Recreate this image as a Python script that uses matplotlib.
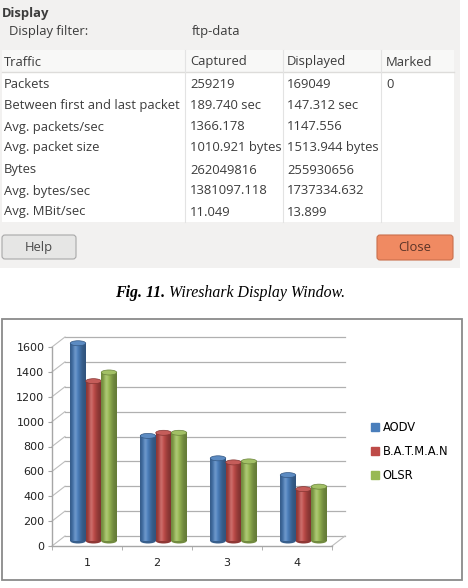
import numpy as np
import matplotlib.pyplot as plt
from matplotlib.patches import Rectangle, FancyBboxPatch, Ellipse, Patch
from matplotlib.colors import to_rgb

W, H = 468, 588

# wireshark summary table
display_filter = 'ftp-data'
header = ['Traffic', 'Captured', 'Displayed', 'Marked']
row_names = ['Packets', 'Between first and last packet', 'Avg. packets/sec',
             'Avg. packet size', 'Bytes', 'Avg. bytes/sec', 'Avg. MBit/sec']
captured = ['259219', '189.740 sec', '1366.178', '1010.921 bytes',
            '262049816', '1381097.118', '11.049']
displayed = ['169049', '147.312 sec', '1147.556', '1513.944 bytes',
             '255930656', '1737334.632', '13.899']
marked = ['0', '', '', '', '', '', '']

# bar chart
categories = ['1', '2', '3', '4']
protocols = ['AODV', 'B.A.T.M.A.N', 'OLSR']
aodv = [1590, 845, 665, 530]
batman = [1285, 870, 632, 417]
olsr = [1355, 870, 640, 437]
colors = ['#4a7ebb', '#be4b48', '#98b954']

ui_font = 'Open Sans'
ui_size = 9.4
txt_col = '#3c3c3c'

fig = plt.figure(figsize=(W / 100, H / 100), dpi=100)
bg = fig.add_axes([0, 0, 1, 1])
bg.set_xlim(0, W)
bg.set_ylim(H, 0)
bg.axis('off')

# ---- screenshot part ----
bg.add_patch(Rectangle((0, 0), 460, 268, color='#f2f1f0', lw=0))
bg.add_patch(Rectangle((2, 50), 452, 172, color='white', lw=0))
bg.add_patch(Rectangle((2, 50), 452, 22, color='#f8f8f7', lw=0))
bg.plot([2, 454], [72, 72], color='#dddcda', lw=1)
for cx in [185, 283, 381]:
    bg.plot([cx, cx], [50, 222], color='#e3e3e3', lw=0.8)

bg.text(2, 13, 'Display', fontsize=ui_size, fontweight='bold', family=ui_font,
        color=txt_col, va='center')
bg.text(9, 31, 'Display filter:', fontsize=ui_size, family=ui_font, color=txt_col, va='center')
bg.text(192, 31, display_filter, fontsize=ui_size, family=ui_font, color=txt_col, va='center')

col_x = [4, 190, 287, 386]
for x, h in zip(col_x, header):
    bg.text(x, 62, h, fontsize=ui_size, family=ui_font, color=txt_col, va='center')
row_y = [84, 105.5, 127, 148, 170, 191, 212]
for y, a, b, c, d in zip(row_y, row_names, captured, displayed, marked):
    for x, s in zip(col_x, [a, b, c, d]):
        bg.text(x, y, s, fontsize=ui_size, family=ui_font, color=txt_col, va='center')

bg.add_patch(FancyBboxPatch((2, 235), 74, 24, boxstyle='round,pad=0,rounding_size=3',
                            fc='#e6e6e5', ec='#a8a8a8', lw=0.8))
bg.text(39, 247.5, 'Help', fontsize=ui_size, family=ui_font, color='#4a4a4a',
        ha='center', va='center')
bg.add_patch(FancyBboxPatch((377, 235), 76, 25, boxstyle='round,pad=0,rounding_size=3',
                            fc='#f08a62', ec='#c96f4c', lw=0.8))
bg.text(415, 247.5, 'Close', fontsize=ui_size, family=ui_font, color='#5b3428',
        ha='center', va='center')

# caption
t1 = bg.text(115, 293, 'Fig. 11.', fontsize=11.4, family='Liberation Serif',
             style='italic', fontweight='bold', va='center')
bg.annotate(' Wireshark Display Window.', xy=(1, 0), xycoords=t1, fontsize=11.4,
            family='Liberation Serif', style='italic', va='bottom', ha='left')

# chart frame
bg.add_patch(Rectangle((2, 319), 460, 261, fc='white', ec='#8a8a8a', lw=1.3))

# ---- chart ----
ax = fig.add_axes([52 / W, 1 - 546 / H, 280 / W, 199 / H])
ax.patch.set_alpha(0)
ax.set_xlim(-0.5, 3.5)
ax.set_ylim(0, 1600)
for s in ['top', 'right']:
    ax.spines[s].set_visible(False)
for s in ['left', 'bottom']:
    ax.spines[s].set_color('#a6a6a6')
    ax.spines[s].set_linewidth(1)

# fake depth of the excel 3d chart
ddx = 13 / 70
ddy = 10 * 1600 / 199
yt = np.arange(0, 1601, 200)
for v in yt:
    ax.plot([-0.5 + ddx, 3.5 + ddx], [v + ddy, v + ddy], color='#b0b0b0', lw=0.9,
            clip_on=False, zorder=1)
    ax.plot([-0.5, -0.5 + ddx], [v, v + ddy], color='#bdbdbd', lw=0.8,
            clip_on=False, zorder=1)
ax.plot([3.5, 3.5 + ddx], [0, ddy], color='#bdbdbd', lw=0.8, clip_on=False, zorder=1)

bw = 15.5 / 70
eh = 5 * 1600 / 199
t = np.linspace(0, 1, 40)
for j, (vals, c) in enumerate(zip([aodv, batman, olsr], colors)):
    base = np.array(to_rgb(c))
    shade = 0.66 + 0.36 * np.exp(-((t - 0.4) / 0.32) ** 2)
    hl = 0.18 * np.exp(-((t - 0.33) / 0.12) ** 2)
    grad = base[None, :] * shade[:, None]
    grad = grad * (1 - hl[:, None]) + hl[:, None]
    grad = np.clip(grad, 0, 1)[None, :, :]
    top_c = base * 0.9 + 0.1
    for i, v in enumerate(vals):
        xc = i + ddx / 2 + (j - 1) * bw
        y0 = ddy / 2
        ax.add_patch(Ellipse((xc, y0), bw, eh, fc=base * 0.75, lw=0,
                             zorder=2 + j, clip_on=False))
        im = ax.imshow(grad, extent=(xc - bw / 2, xc + bw / 2, y0, y0 + v),
                       aspect='auto', interpolation='bilinear', zorder=2 + j)
        im.set_clip_on(False)
        ax.add_patch(Ellipse((xc, y0 + v), bw, eh, fc=top_c, ec=base * 0.7, lw=0.5,
                             zorder=2 + j, clip_on=False))

ax.set_xlim(-0.5, 3.5)
ax.set_ylim(0, 1600)
ax.set_yticks(yt)
ax.tick_params(axis='y', direction='out', length=3, color='#a6a6a6',
               labelsize=8, pad=2.5, labelcolor='#222222')
ax.set_xticks(range(len(categories)))
ax.set_xticklabels(categories)
ax.set_xticks(np.arange(-0.5, 3.6, 1), minor=True)
ax.tick_params(axis='x', which='major', length=0, pad=8.5, labelsize=8,
               labelcolor='#222222')
ax.tick_params(axis='x', which='minor', direction='out', length=3, color='#a6a6a6')

handles = [Patch(color=c) for c in colors]
ax.legend(handles, protocols, loc='upper left', bbox_to_anchor=(371 / W, 1 - 421 / H),
          bbox_transform=fig.transFigure, frameon=False, fontsize=8.3,
          handlelength=0.7, handleheight=0.7, handletextpad=0.3,
          labelspacing=0.95, borderpad=0, borderaxespad=0)

fig.savefig('out.png', dpi=100)
